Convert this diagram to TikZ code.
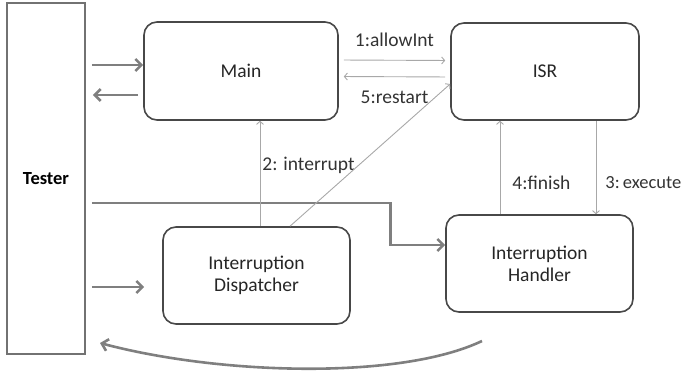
\documentclass[tikz,border=0pt]{standalone}
\usepackage{fontspec}
\setmainfont{Carlito}
\usepackage{xcolor}
\usetikzlibrary{arrows.meta}

\definecolor{boxgray}{HTML}{484848}
\definecolor{heavygray}{HTML}{7F7F7F}
\definecolor{lightgray}{HTML}{A8A8A8}

\begin{document}
\begin{tikzpicture}[x=1pt,y=-1pt,font=\fontsize{19.5}{22}\selectfont]
   \useasboundingbox (0,0) rectangle (688,374);
   \tikzstyle{comp}=[rectangle, rounded corners=13pt, draw=boxgray, line width=1.6pt, align=center, inner sep=0pt, text=black!85]
   \tikzstyle{heavy}=[draw=heavygray, line width=2.6pt, -{Straight Barb[length=6pt,width=12pt]}]
   \tikzstyle{light}=[draw=lightgray, line width=0.9pt, -{Straight Barb[length=3pt,width=7pt]}]
   \tikzstyle{msg}=[text=black!80, inner sep=1pt]
   \node[draw=heavygray!90!black, line width=1.8pt, minimum width=78pt, minimum height=351pt, inner sep=0pt, font=\fontsize{18.5}{22}\selectfont\bfseries] (tester) at (46,178.5) {Tester};
   \node[comp, minimum width=194pt, minimum height=98pt] (main) at (241,71) {Main};
   \node[comp, minimum width=188pt, minimum height=97pt] (isr) at (545,71.5) {ISR};
   \node[comp, minimum width=187pt, minimum height=97pt] (disp) at (256.5,275.5) {Interruption\\Dispatcher};
   \node[comp, minimum width=187pt, minimum height=97pt] (hand) at (539.5,263.5) {Interruption\\Handler};
   % tester stimuli
   \draw[heavy, shorten <=6pt] ([yshift=6pt]main.west -| tester.east) -- ([yshift=6pt]main.west);
   \draw[heavy, shorten <=5pt, shorten >=7pt] ([yshift=-24pt]main.west) -- ([yshift=-24pt]main.west -| tester.east);
   \draw[heavy, shorten <=6pt, shorten >=18pt] ([yshift=-11.5pt]disp.west -| tester.east) -- ([yshift=-11.5pt]disp.west);
   \draw[heavy, shorten <=6pt] ([yshift=-24.5pt]tester.east) -| ([xshift=-55pt,yshift=18.5pt]hand.west) -- ([yshift=18.5pt]hand.west);
   \coordinate (back) at (482,341);
   \coordinate (ret) at (100,343);
   \draw[heavy] (back) .. controls (400,380) and (220,375) .. (ret);
   % messages
   \draw[light, shorten <=5pt, shorten >=5pt] ([yshift=11pt]main.east) -- node[msg, above=12pt] {1:allowInt} ([yshift=11pt]isr.west);
   \draw[light, shorten <=5pt, shorten >=5pt] ([yshift=-5.5pt]isr.west) -- node[msg, below=13pt] {5:restart} ([yshift=-5.5pt]main.east);
   \coordinate (intr) at ([xshift=19pt]main.south);
   \draw[light] (disp.north -| intr) -- node[msg, pos=.58, right=1pt] {2: interrupt} (intr);
   \draw[light] ([xshift=33.5pt]disp.north) -- ([yshift=-12.5pt]isr.west);
   \coordinate (fin) at ([xshift=-45pt]isr.south);
   \draw[light] (hand.north -| fin) -- node[msg, pos=.34, right=11pt] {4:finish} (fin);
   \coordinate (exe) at ([xshift=51pt]isr.south);
   \draw[light] (exe) -- node[msg, pos=.66, right=8pt, font=\fontsize{18.5}{22}\selectfont] {3:\,execute} (hand.north -| exe);
\end{tikzpicture}
\end{document}
